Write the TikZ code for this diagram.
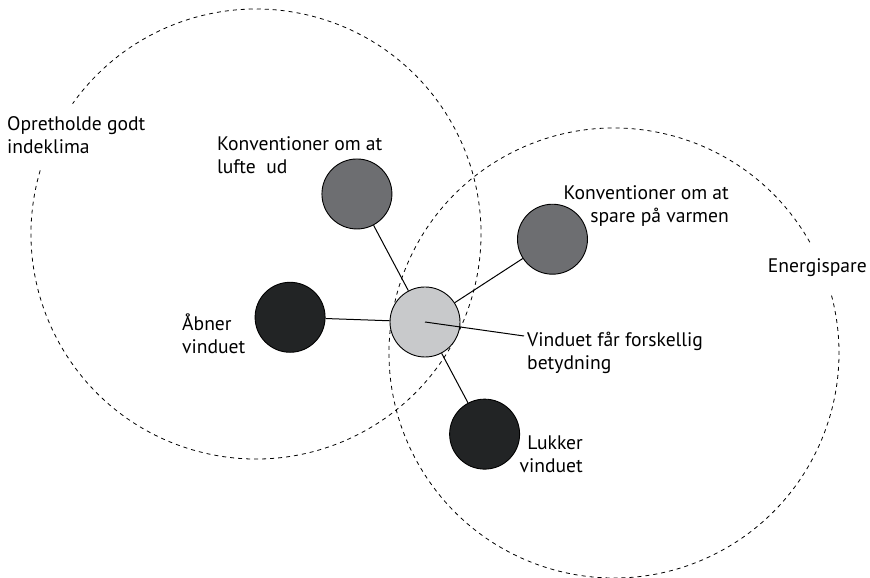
\documentclass[tikz,border=0pt]{standalone}
\usepackage{fontspec}
\setmainfont{PT Sans}
\definecolor{lys}{HTML}{C8C9CB}
\definecolor{graa}{HTML}{6D6E71}
\definecolor{sort}{HTML}{222425}
\begin{document}
\begin{tikzpicture}[x=1pt,y=1pt,
		font=\fontsize{19.6}{23}\selectfont,
		kreds/.style={circle,draw,line width=0.9pt,minimum size=70pt,inner sep=0pt},
		felt/.style={dash pattern=on 4pt off 4pt,line width=0.8pt},
		tekst/.style={align=left,anchor=base west,inner sep=0pt},
		edge from parent/.style={draw,line width=1pt}]
		\useasboundingbox (0,0) rectangle (870,578);
		% de to felter
		\draw[felt] (256,344) ++(163.6:225) arc[start angle=163.6,end angle=504.6,radius=225];
		\draw[felt] (614,225) ++(29.5:225) arc[start angle=29.5,end angle=375.4,radius=225];
		% vinduet og handlingerne
		\node[kreds,fill=lys](z) at (425,256){}
		child[grow=118.9,level distance=145pt]{node[kreds,fill=graa](lufte){}}
		child[grow=33.2,level distance=152pt]{node[kreds,fill=graa](spare){}}
		child[grow=178.7,level distance=135pt]{node[kreds,fill=sort](aabner){}}
		child[grow=-62.8,level distance=127pt]{node[kreds,fill=sort](lukker){}};
		\coordinate (pil) at (524,242);
		\draw[line width=1pt] (z.center) -- (pil);
		% tekster (base = sidste linje)
		\node[tekst](felt1) at (7,424) {Opretholde godt\\indeklima};
		\node[tekst,anchor=base east](felt2) at (867,305) {Energispare};
		\node[tekst](tlufte) at (217,404) {Konventioner om at\\lufte\ \ ud};
		\node[tekst,align=right,anchor=base east](tspare) at (729,355) {Konventioner om at\\spare på varmen};
		\node[tekst](taabner) at (182,224) {Åbner\\vinduet};
		\node[tekst](tvindue) at (527,208) {Vinduet får forskellig\\betydning};
		\node[tekst,align=right,anchor=base east](tlukker) at (583,105) {Lukker\\vinduet};
	\end{tikzpicture}
\end{document}
